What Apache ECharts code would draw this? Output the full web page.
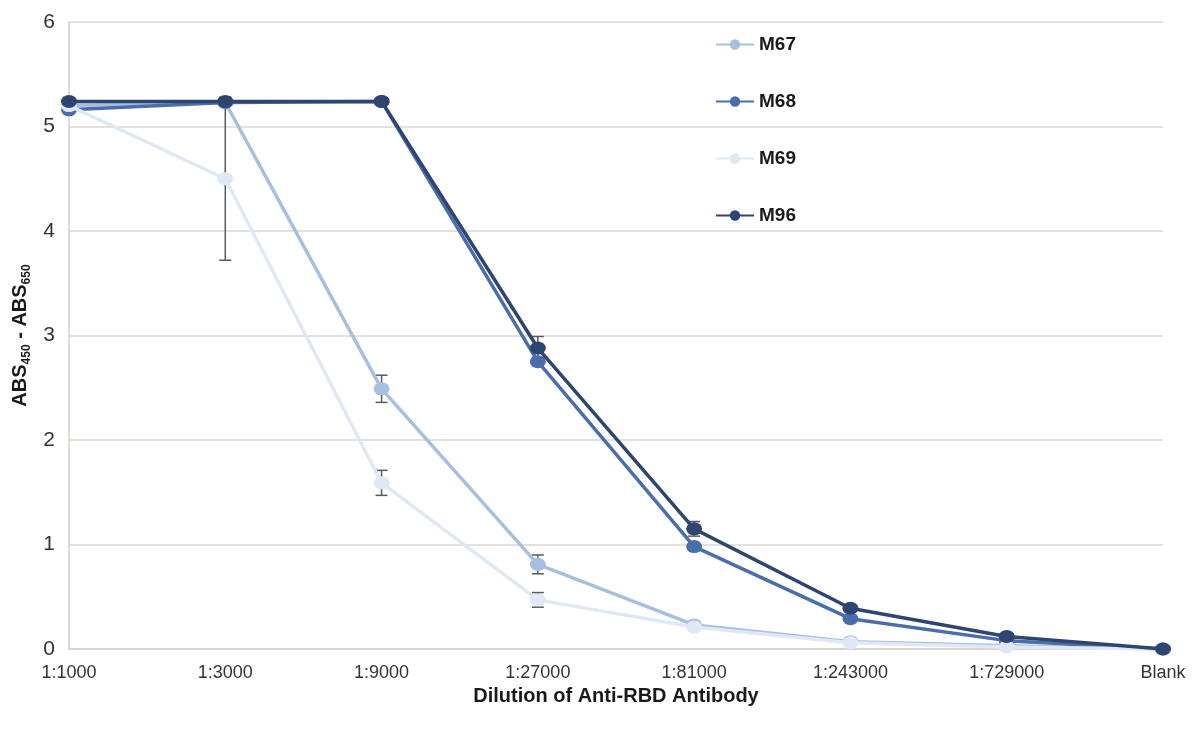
<!DOCTYPE html>
<html>
<head>
<meta charset="utf-8">
<script src="https://cdn.jsdelivr.net/npm/echarts@6/dist/echarts.min.js"></script>
<style>html,body{margin:0;padding:0;background:#fff;}#c{width:1198px;height:730px;}</style>
</head>
<body>
<div id="c"></div>
<script>
const categories = ['1:1000','1:3000','1:9000','1:27000','1:81000','1:243000','1:729000','Blank'];
const seriesNames = ['M67','M68','M69','M96'];
const M67 = [5.20, 5.23, 2.49, 0.81, 0.23, 0.07, 0.03, 0.00];
const M68 = [5.16, 5.23, 5.24, 2.75, 0.98, 0.29, 0.08, 0.00];
const M69 = [5.20, 4.50, 1.59, 0.47, 0.21, 0.06, 0.02, 0.00];
const M96 = [5.24, 5.24, 5.24, 2.88, 1.15, 0.39, 0.12, 0.00];
const errM67 = [0, 0.02, 0.13, 0.09, 0.02, 0, 0, 0];
const errM68 = [0, 0.02, 0, 0.04, 0.03, 0.02, 0, 0];
const errM69 = [0, 0.78, 0.12, 0.07, 0, 0, 0, 0];
const errM96 = [0, 0.03, 0, 0.11, 0.07, 0.03, 0.02, 0];
const colors = ['#a6bfe1', '#4a6eab', '#dfe8f4', '#2e4570'];

const values = [M67, M68, M69, M96];
const errs = [errM67, errM68, errM69, errM96];
const FF = 'Liberation Sans, Arial, sans-serif';

const chart = echarts.init(document.getElementById('c'));
const series = [];
values.forEach((v, i) => {
  series.push({
    name: seriesNames[i], type: 'line', data: v,
    color: colors[i], symbol: 'circle', symbolSize: [16, 13],
    lineStyle: { width: 3.5, color: colors[i] },
    itemStyle: { color: colors[i] },
    z: 3 + i
  });
});
values.forEach((v, i) => {
  series.push({
    type: 'custom', z: 2,
    data: v.map((y, k) => [k, y, errs[i][k]]).filter(d => d[2] > 0),
    renderItem: function (params, api) {
      const x = api.value(0), y = api.value(1), e = api.value(2);
      const hi = api.coord([x, y + e]);
      const lo = api.coord([x, y - e]);
      const w = 6;
      const st = { stroke: '#5a5a5a', lineWidth: 1.5 };
      return { type: 'group', children: [
        { type: 'line', shape: { x1: hi[0], y1: hi[1], x2: lo[0], y2: lo[1] }, style: st },
        { type: 'line', shape: { x1: hi[0]-w, y1: hi[1], x2: hi[0]+w, y2: hi[1] }, style: st },
        { type: 'line', shape: { x1: lo[0]-w, y1: lo[1], x2: lo[0]+w, y2: lo[1] }, style: st }
      ]};
    },
    silent: true, tooltip: { show: false }
  });
});

chart.setOption({
  backgroundColor: '#ffffff',
  animation: false,
  textStyle: { fontFamily: FF },
  grid: { left: 69, right: 35, top: 22, bottom: 81 },
  legend: {
    data: seriesNames, orient: 'vertical', left: 710, top: 30,
    itemWidth: 38, itemHeight: 13, itemGap: 38,
    textStyle: { fontSize: 19, fontWeight: 'bold', color: '#1a1a1a', fontFamily: FF }
  },
  xAxis: {
    type: 'category', data: categories, boundaryGap: false,
    name: 'Dilution of Anti-RBD Antibody', nameLocation: 'middle', nameGap: 24,
    nameTextStyle: { fontSize: 20, fontWeight: 'bold', color: '#1a1a1a' },
    axisLine: { lineStyle: { color: '#d6cfca', width: 1.5 } },
    axisTick: { show: false },
    axisLabel: { fontSize: 18, color: '#333', margin: 15 }
  },
  yAxis: {
    type: 'value', min: 0, max: 6, interval: 1,
    name: '{a|ABS}{s|450}{a| - ABS}{s|650}', nameLocation: 'middle', nameGap: 34,
    nameTextStyle: {
      rich: {
        a: { fontSize: 20, fontWeight: 'bold', color: '#1a1a1a', lineHeight: 24, fontFamily: FF },
        s: { fontSize: 12, fontWeight: 'bold', color: '#1a1a1a', lineHeight: 10, verticalAlign: 'bottom', fontFamily: FF }
      }
    },
    axisLine: { show: true, lineStyle: { color: '#d6cfca', width: 1.5 } },
    axisTick: { show: false },
    axisLabel: { fontSize: 21, color: '#333', margin: 14 },
    splitLine: { lineStyle: { color: '#ddd6d1', width: 1.5 } }
  },
  series: series
});
</script>
</body>
</html>
